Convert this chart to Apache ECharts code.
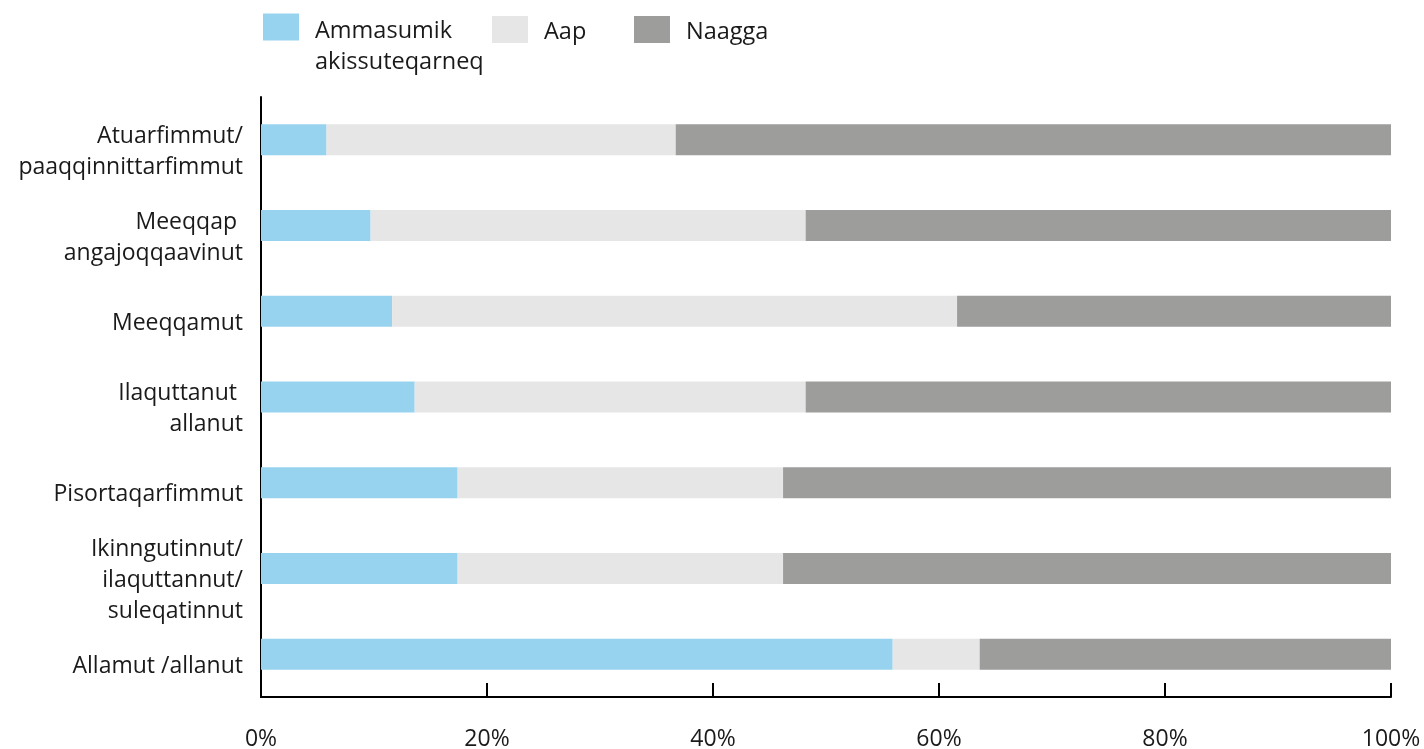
<!DOCTYPE html>
<html>
<head>
<meta charset="utf-8">
<script src="https://cdn.jsdelivr.net/npm/echarts@6/dist/echarts.min.js"></script>
<style>
html,body{margin:0;padding:0;background:#fff;}
#chart{width:1424px;height:749px;}
</style>
</head>
<body>
<div id="chart"></div>
<script>
const categories = [
  'Atuarfimmut/\npaaqqinnittarfimmut',
  'Meeqqap \nangajoqqaavinut',
  'Meeqqamut',
  'Ilaquttanut \nallanut',
  'Pisortaqarfimmut',
  'Ikinngutinnut/\nilaquttannut/\nsuleqatinnut',
  'Allamut /allanut'
];
const seriesNames = ['Ammasumik akissuteqarneq', 'Aap', 'Naagga'];
const ammasumik = [5.8, 9.7, 11.6, 13.6, 17.4, 17.4, 55.9];
const aap =       [30.9, 38.5, 50.0, 34.6, 28.8, 28.8, 7.7];
const naagga =    [63.3, 51.8, 38.4, 51.8, 53.8, 53.8, 36.4];
const xTicks = [0, 20, 40, 60, 80, 100];

const FONT = 'Open Sans';
const TXT = '#1a1a1a';
const colors = ['#97d3ef', '#e6e6e6', '#9d9d9c'];

const chart = echarts.init(document.getElementById('chart'), null, {renderer: 'canvas'});
const legendCommon = {
  orient: 'horizontal',
  itemWidth: 36,
  itemHeight: 27,
  icon: 'rect',
  selectedMode: false,
  padding: 0
};
const legendRich = {
  sp: {fontSize: 2, lineHeight: 40},
  sp2: {fontSize: 2, lineHeight: 6},
  a: {fontFamily: FONT, fontSize: 23.5, color: TXT, lineHeight: 31, padding: [0, 0, 0, 11]}
};
chart.setOption({
  animation: false,
  color: colors,
  textStyle: {fontFamily: FONT},
  legend: [
    Object.assign({}, legendCommon, {left: 263, top: -5, data: [seriesNames[0]],
      formatter: n => '{sp| }\n' + n.split(' ').map(s => '{a|' + s + '}').join('\n'),
      textStyle: {rich: legendRich}}),
    Object.assign({}, legendCommon, {left: 492, top: 13, data: [seriesNames[1]],
      formatter: n => '{sp2| }\n{a|' + n + '}',
      textStyle: {rich: legendRich}}),
    Object.assign({}, legendCommon, {left: 634, top: 13, data: [seriesNames[2]],
      formatter: n => '{sp2| }\n{a|' + n + '}',
      textStyle: {rich: legendRich}})
  ],
  grid: {left: 261, right: 33, top: 97, bottom: 52, containLabel: false, outerBoundsMode: 'none'},
  xAxis: {
    type: 'value',
    min: 0, max: 100, interval: 20,
    axisLine: {show: true, lineStyle: {color: '#000', width: 2}},
    axisTick: {show: true, inside: true, length: 14, lineStyle: {color: '#000', width: 2}},
    splitLine: {show: false},
    axisLabel: {
      formatter: v => xTicks.includes(v) ? v + '%' : '',
      fontFamily: FONT, fontSize: 23, color: TXT, margin: 31
    }
  },
  yAxis: {
    type: 'category',
    inverse: true,
    data: categories,
    axisLine: {show: true, lineStyle: {color: '#000', width: 2}},
    axisTick: {show: false},
    axisLabel: {
      margin: 18,
      formatter: v => '{sp| }\n' + v.split('\n').map(l => '{a|' + l + '}').join('\n'),
      rich: {
        sp: {fontSize: 2, lineHeight: 24, align: 'right'},
        a: {fontFamily: FONT, fontSize: 23, color: TXT, lineHeight: 31, align: 'right'}
      }
    }
  },
  series: [
    {name: seriesNames[0], type: 'bar', stack: 'a', data: ammasumik, barWidth: 31},
    {name: seriesNames[1], type: 'bar', stack: 'a', data: aap, barWidth: 31},
    {name: seriesNames[2], type: 'bar', stack: 'a', data: naagga, barWidth: 31}
  ]
});
</script>
</body>
</html>
